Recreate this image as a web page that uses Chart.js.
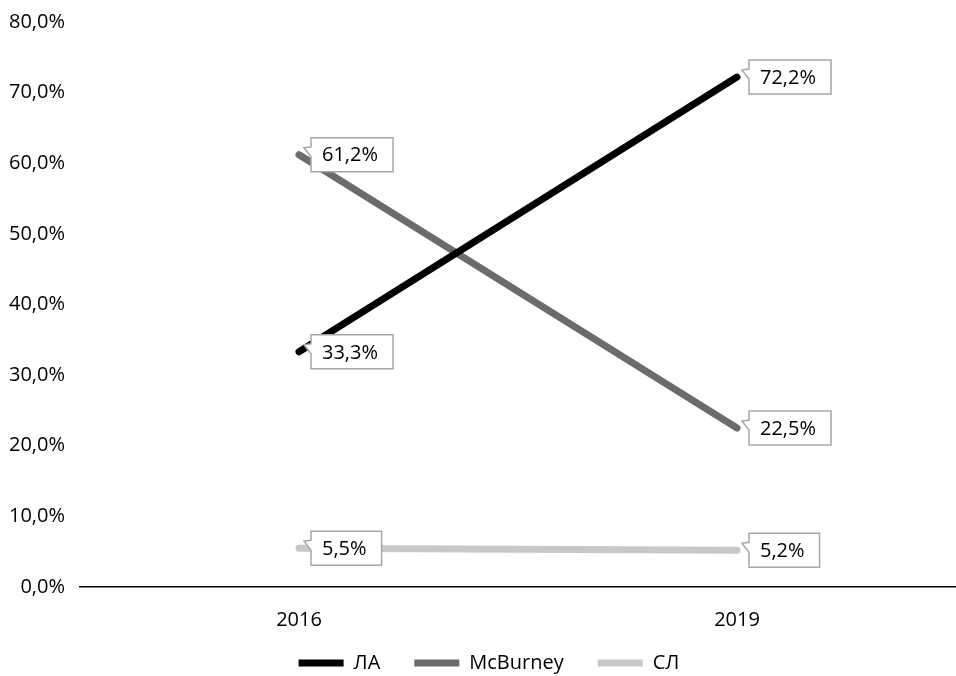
<!DOCTYPE html>
<html>
<head>
<meta charset="utf-8">
<script src="https://cdn.jsdelivr.net/npm/chart.js@4.4.0/dist/chart.umd.min.js"></script>
<style>
  html, body { margin: 0; padding: 0; background: #fff; }
  #wrap { width: 956px; height: 676px; }
</style>
</head>
<body>
<div id="wrap"><canvas id="myChart"></canvas></div>
<script>
var years = ['2016', '2019'];
var laValues = [33.3, 72.2];
var mcBurneyValues = [61.2, 22.5];
var slValues = [5.5, 5.2];
var seriesNames = ['ЛА', 'McBurney', 'СЛ'];
var seriesColors = ['#000000', '#6b6b6b', '#c8c8c8'];

var FONT = '"Open Sans", sans-serif';
var FONT_SIZE = 20;
var LEGEND_SHIFT = 13;
var LEGEND_NUDGE_X = 11;

function fmt(v) {
    return v.toFixed(1).replace('.', ',') + '%';
}

// callout labels next to each point
var calloutPlugin = {
    id: 'callouts',
    afterDatasetsDraw: function (chart) {
        var ctx = chart.ctx;
        ctx.save();
        ctx.font = FONT_SIZE + 'px ' + FONT;
        chart.data.datasets.forEach(function (ds, i) {
            var meta = chart.getDatasetMeta(i);
            meta.data.forEach(function (pt, j) {
                var text = fmt(ds.data[j]);
                var w = ctx.measureText(text).width + 26;
                var h = 34;
                var left = pt.x + 12;
                var top = pt.y - h / 2;
                var tipX = pt.x + 5, tipY = pt.y - 7;
                ctx.beginPath();
                ctx.moveTo(left, top);
                ctx.lineTo(left + w, top);
                ctx.lineTo(left + w, top + h);
                ctx.lineTo(left, top + h);
                ctx.lineTo(left, pt.y + 2);
                ctx.lineTo(tipX, tipY);
                ctx.lineTo(left, pt.y - 8);
                ctx.closePath();
                ctx.fillStyle = '#ffffff';
                ctx.fill();
                ctx.strokeStyle = '#a6a6a6';
                ctx.lineWidth = 1.5;
                ctx.stroke();
                ctx.fillStyle = '#000';
                ctx.textAlign = 'left';
                ctx.textBaseline = 'middle';
                ctx.fillText(text, left + 11, top + h / 2 + 1);
            });
        });
        ctx.restore();
    }
};

// legend: keep wide horizontal spacing but a tighter box
var legendTweak = {
    id: 'legendTweak',
    afterInit: function (chart) {
        var lg = chart.legend;
        var fit = lg.fit, draw = lg.draw;
        lg.fit = function () {
            fit.call(this);
            this.height -= LEGEND_SHIFT;
        };
        lg.draw = function () {
            this.top -= LEGEND_SHIFT;
            this.left += LEGEND_NUDGE_X;
            this.right += LEGEND_NUDGE_X;
            draw.call(this);
            this.top += LEGEND_SHIFT;
            this.left -= LEGEND_NUDGE_X;
            this.right -= LEGEND_NUDGE_X;
        };
    }
};

function makeSet(idx, values) {
    return {
        label: seriesNames[idx],
        data: values,
        borderColor: seriesColors[idx],
        backgroundColor: seriesColors[idx],
        borderWidth: 7,
        borderCapStyle: 'round',
        pointRadius: 0,
        pointHoverRadius: 0,
        tension: 0
    };
}

var ctx = document.getElementById('myChart').getContext('2d');

var myChart = new Chart(ctx, {
    type: 'line',
    data: {
        labels: years,
        datasets: [
            makeSet(0, laValues),
            makeSet(1, mcBurneyValues),
            makeSet(2, slValues)
        ]
    },
    options: {
        responsive: true,
        maintainAspectRatio: false,
        animation: false,
        layout: { padding: { top: 22, right: 0, bottom: -7, left: 0 } },
        plugins: {
            tooltip: { enabled: false },
            legend: {
                position: 'bottom',
                labels: {
                    usePointStyle: true,
                    pointStyle: 'line',
                    pointStyleWidth: 45,
                    color: '#000',
                    padding: 34,
                    font: { family: FONT, size: FONT_SIZE }
                }
            }
        },
        scales: {
            x: {
                offset: true,
                grid: { display: false, drawTicks: false },
                border: { display: true, color: '#000', width: 1.5 },
                afterFit: function (scale) { scale.height = 45; },
                ticks: { color: '#000', padding: 21, font: { family: FONT, size: FONT_SIZE } }
            },
            y: {
                min: 0,
                max: 80,
                grid: { display: false, drawTicks: false },
                border: { display: false },
                afterFit: function (scale) {
                    scale.width = 80;
                    scale.paddingTop = 0;
                    scale.paddingBottom = 0;
                },
                ticks: {
                    stepSize: 10,
                    padding: 15,
                    color: '#000',
                    font: { family: FONT, size: FONT_SIZE },
                    callback: function (v) { return fmt(v); }
                }
            }
        }
    },
    plugins: [calloutPlugin, legendTweak]
});
</script>
</body>
</html>
